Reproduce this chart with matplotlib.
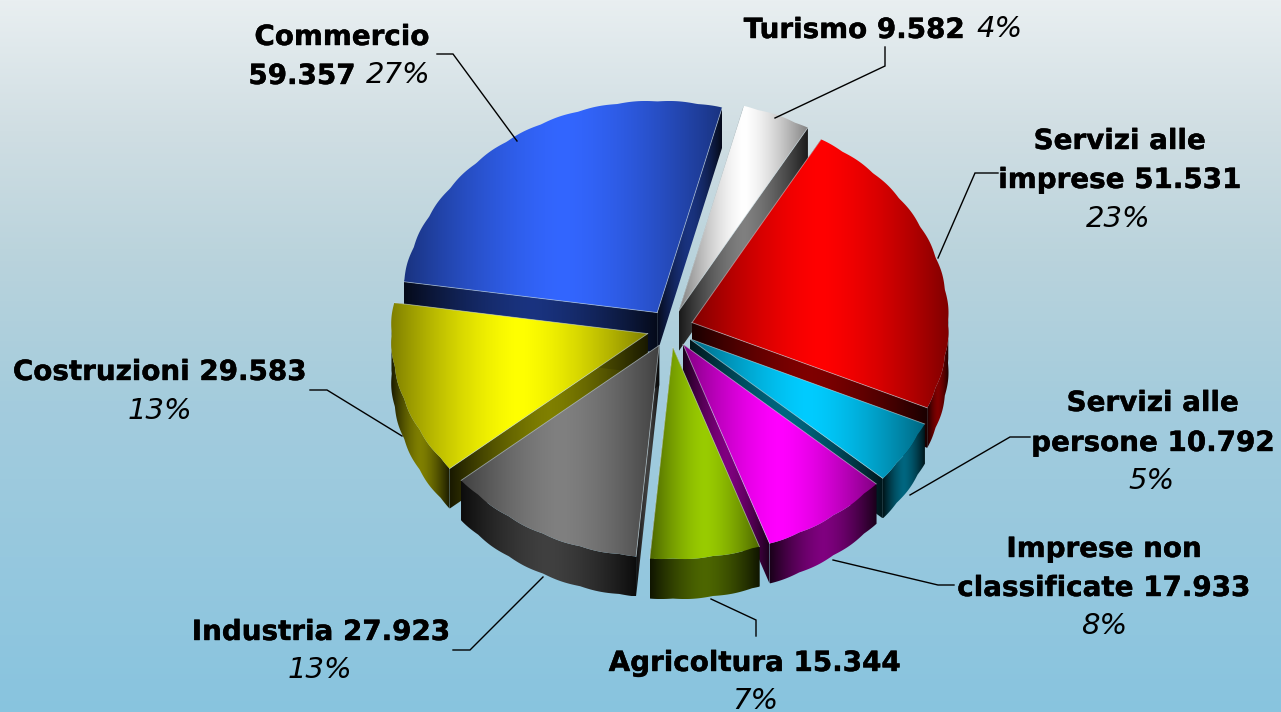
import numpy as np
import matplotlib
matplotlib.use('Agg')
import matplotlib.pyplot as plt
import matplotlib.patheffects as pe
from matplotlib.patches import Polygon

# slices, clockwise, starting at Commercio
categories = ['Commercio', 'Turismo', 'Servizi alle imprese', 'Servizi alle persone',
              'Imprese non classificate', 'Agricoltura', 'Industria', 'Costruzioni']
values = [59357, 9582, 51531, 10792, 17933, 15344, 27923, 29583]
percents = ['27%', '4%', '23%', '5%', '8%', '7%', '13%', '13%']
colors = ['#3366FF', '#FFFFFF', '#FF0000', '#00CCFF', '#FF00FF', '#99CC00', '#808080', '#FFFF00']

# pie geometry in image pixels
CX, CY = 670, 328.5
RX, RY = 257, 212
EXPLODE = 0.09
DEPTH = 40
START = -81.6

fig = plt.figure(figsize=(12.81, 7.12), dpi=100)
ax = fig.add_axes([0, 0, 1, 1])

# background
bg_y = [0, 130, 260, 400, 712]
bg_c = [(0xe9, 0xef, 0xf1), (0xd0, 0xde, 0xe3), (0xb9, 0xd3, 0xdc), (0xa4, 0xcc, 0xdd), (0x88, 0xc4, 0xdf)]
ys = np.arange(712)
bg = np.stack([np.interp(ys, bg_y, [c[i] for c in bg_c]) for i in range(3)], axis=1) / 255
ax.imshow(bg[:, None, :], extent=(0, 1281, 712, 0), aspect='auto', zorder=0)


def rgb(c):
    return np.array(matplotlib.colors.to_rgb(c))


def shaded(pts, base, edge_k, mid_k, z):
    # horizontal gradient over the face bbox: dark at the sides, brightest in the middle
    pts = np.array(pts)
    x0, x1 = pts[:, 0].min(), pts[:, 0].max()
    if x1 - x0 < 0.5:
        return
    t = np.linspace(-1, 1, 256)
    k = edge_k + (mid_k - edge_k) * (1 - np.abs(t) ** 1.5)
    row = np.clip(k[:, None] * rgb(base), 0, 1)
    y0, y1 = pts[:, 1].min(), pts[:, 1].max()
    im = ax.imshow(np.stack([row, row]), extent=(x0, x1, y1, y0), aspect='auto',
                   interpolation='bilinear', zorder=z)
    im.set_clip_path(Polygon(pts, closed=True, transform=ax.transData))


fracs = np.array(values) / sum(values)
edges = START + np.concatenate([[0], np.cumsum(fracs)]) * 360
# back to front
order = [0, 1, 2, 7, 3, 6, 4, 5]

for n, i in enumerate(order):
    a0, a1 = edges[i], edges[i + 1]
    mid = np.radians((a0 + a1) / 2)
    ax0 = CX + EXPLODE * RX * np.sin(mid)
    ay0 = CY - EXPLODE * RY * np.cos(mid)
    t = np.radians(np.linspace(a0, a1, 160))
    # the original rim is a bit lumpy, not a clean ellipse
    bump = 1 - 0.004 * (1 - np.abs(np.sin(t * 20)))
    rim = np.column_stack([ax0 + RX * bump * np.sin(t), ay0 - RY * bump * np.cos(t)])
    apex = np.array([ax0, ay0])
    down = np.array([0, DEPTH])
    z = 2 + n * 3

    # cut faces
    for p in (rim[0], rim[-1]):
        shaded([apex, p, p + down, apex + down], colors[i], 0.1, 0.5, z)

    # curved wall, only the part that faces the viewer
    front = np.cos(t) < 0.02
    if front.sum() > 1:
        r = rim[front]
        shaded(np.vstack([r, (r + down)[::-1]]), colors[i], 0.1, 0.5, z + 1)

    # top face
    shaded(np.vstack([apex, rim]), colors[i], 0.5, 1.0, z + 2)
    for p in (rim[0], rim[-1]):
        ax.plot([apex[0], p[0]], [apex[1], p[1]], color='#cfe0e6', lw=0.6, alpha=0.6, zorder=z + 2)

# leader lines
leaders = [
    ([437, 453, 517], [54, 54, 141]),
    ([885, 885, 775], [47, 66, 118]),
    ([998, 975, 938], [173, 173, 258]),
    ([1030, 1010, 910], [437, 437, 495]),
    ([954, 938, 833], [585, 585, 560]),
    ([756, 756, 711], [636, 620, 599]),
    ([453, 470, 543], [650, 650, 577]),
    ([310, 327, 402], [390, 390, 436]),
]
for lx, ly in leaders:
    ax.plot(lx, ly, color='black', lw=1.0, zorder=60, solid_joinstyle='miter')


def num(v):
    return f'{v:,}'.replace(',', '.')


heavy = [pe.withStroke(linewidth=0.3, foreground='black')]
bold = dict(fontsize=20.0, fontweight='bold', color='black', va='center', zorder=70, path_effects=heavy)
ital = dict(fontsize=21.0, fontstyle='italic', color='black', va='center', zorder=70)

ax.text(342, 37, 'Commercio', ha='center', **bold)
ax.text(356, 76, num(values[0]), ha='right', **bold)
ax.text(366, 75, percents[0], ha='left', **ital)

ax.text(965, 30, 'Turismo ' + num(values[1]), ha='right', **bold)
ax.text(976, 29, percents[1], ha='left', **ital)

ax.text(1120, 141, 'Servizi alle', ha='center', **bold)
ax.text(1120, 180, 'imprese ' + num(values[2]), ha='center', **bold)
ax.text(1118, 219, percents[2], ha='center', **ital)

ax.text(1153, 403, 'Servizi alle', ha='center', **bold)
ax.text(1153, 443, 'persone ' + num(values[3]), ha='center', **bold)
ax.text(1151, 481, percents[3], ha='center', **ital)

ax.text(1104, 549, 'Imprese non', ha='center', **bold)
ax.text(1104, 588, 'classificate ' + num(values[4]), ha='center', **bold)
ax.text(1104, 626, percents[4], ha='center', **ital)

ax.text(755, 663, 'Agricoltura ' + num(values[5]), ha='center', **bold)
ax.text(755, 701, percents[5], ha='center', **ital)

ax.text(321, 632, 'Industria ' + num(values[6]), ha='center', **bold)
ax.text(320, 670, percents[6], ha='center', **ital)

ax.text(160, 372, 'Costruzioni ' + num(values[7]), ha='center', **bold)
ax.text(160, 411, percents[7], ha='center', **ital)

ax.set_xlim(0, 1281)
ax.set_ylim(712, 0)
ax.axis('off')
fig.savefig('out.png', dpi=100)
